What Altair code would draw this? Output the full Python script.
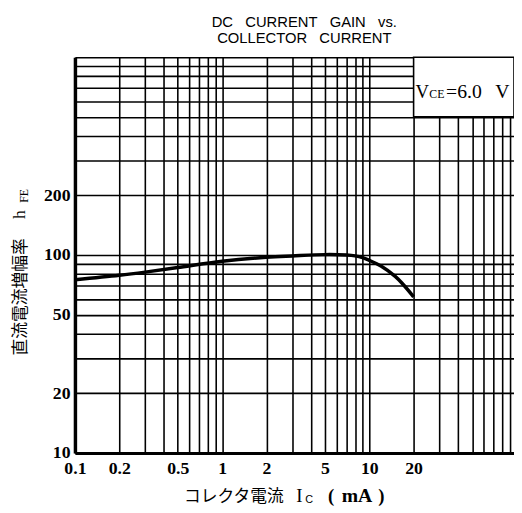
import json
import altair as alt
import pandas as pd

# ---- data ----
ic_ma = [0.1, 0.2, 0.3, 0.5, 1, 2, 3, 5, 7, 8, 9, 10, 12, 15, 17, 20]
hfe = [75, 79, 82, 86.5, 93, 97.5, 99, 100.5, 100, 99, 97, 94, 88, 78, 71, 61.5]

x_grid = [0.1, 0.2, 0.3, 0.4, 0.5, 0.6, 0.7, 0.8, 0.9,
          1, 2, 3, 4, 5, 6, 7, 8, 9,
          10, 20, 30, 40, 50, 60, 70, 80, 90]
y_grid = [10, 20, 30, 40, 50, 60, 70, 80, 90,
          100, 200, 300, 400, 500, 600, 700, 800, 900, 1000]
x_tick_values = [0.1, 0.2, 0.5, 1, 2, 5, 10, 20]
x_tick_labels = ["0.1", "0.2", "0.5", "1", "2", "5", "10", "20"]
y_tick_values = [10, 20, 50, 100, 200]
y_tick_labels = ["10", "20", "50", "100", "200"]

X_MIN, X_MAX = 0.1, 96.2
Y_MIN, Y_MAX = 10, 1000
W, H = 446, 402


def label_expr(values, labels):
    v = json.dumps(values)
    lab = json.dumps(labels)
    return f"indexof({v}, datum.value) >= 0 ? {lab}[indexof({v}, datum.value)] : ''"


xscale = alt.Scale(type="log", domain=[X_MIN, X_MAX], nice=False)
yscale = alt.Scale(type="log", domain=[Y_MIN, Y_MAX], nice=False)

axis_style = dict(grid=True, gridColor="black", gridWidth=1.6, gridOpacity=1,
                  ticks=False, domainColor="black",
                  labelFont="Liberation Serif", labelFontWeight="bold",
                  labelFontSize=18, labelColor="black",
                  labelOverlap=False, labelFlush=False, title=None)

x_axis = alt.Axis(values=x_grid, labelExpr=label_expr(x_tick_values, x_tick_labels),
                  labelPadding=7, domainWidth=3, **axis_style)
y_axis = alt.Axis(values=y_grid, labelExpr=label_expr(y_tick_values, y_tick_labels),
                  labelPadding=5, domainWidth=3.5, **axis_style)

df = pd.DataFrame({"ic": ic_ma, "hfe": hfe})

curve = alt.Chart(df).mark_line(color="black", strokeWidth=3.5, interpolate="catmull-rom").encode(
    x=alt.X("ic:Q", scale=xscale, axis=x_axis),
    y=alt.Y("hfe:Q", scale=yscale, axis=y_axis),
)

box_df = pd.DataFrame({"ic": [20], "x2": [X_MAX], "hfe": [500], "y2": [1000]})
box = alt.Chart(box_df).mark_rect(fill="white", stroke="black", strokeWidth=1.6).encode(
    x=alt.X("ic:Q", scale=xscale, axis=x_axis), x2="x2:Q",
    y=alt.Y("hfe:Q", scale=yscale, axis=y_axis), y2="y2:Q",
)


def txt(s, x, y, size, font="Liberation Serif", weight="normal", angle=0,
        align="left", baseline="alphabetic"):
    return alt.Chart(alt.Data(values=[{}])).mark_text(
        text=s, font=font, fontSize=size, fontWeight=weight, angle=angle,
        align=align, baseline=baseline, color="black"
    ).encode(x=alt.value(x), y=alt.value(y))


NB = "\u00a0"
XT = 452  # baseline of the x-axis title, px below the plot top
texts = [
    # title
    txt(f"DC{NB*3}CURRENT{NB*3}GAIN{NB*3}vs.", 233, -31, 15, font="Liberation Sans", align="center"),
    txt(f"COLLECTOR{NB*3}CURRENT", 233, -14, 15, font="Liberation Sans", align="center"),
    # y title
    txt("直流電流増幅率", -50, 243.5, 17, font="Noto Sans CJK JP", angle=270, align="center"),
    txt("h", -51, 160, 18, angle=270, align="center"),
    txt("FE", -48, 141, 12, angle=270, align="center"),
    # x title
    txt("コレクタ電流", 161.5, XT, 17, font="Noto Sans CJK JP", align="center"),
    txt("I", 228, XT, 19, align="center"),
    txt("C", 238, XT + 1, 11, font="Liberation Sans", align="center"),
    txt("(", 257, XT, 19, weight="bold"),
    txt("mA", 271, XT, 20, weight="bold"),
    txt(")", 308, XT, 19, weight="bold"),
    # legend
    txt("V", 346, 41, 19),
    txt("CE", 360, 41, 12),
    txt("=6.0", 377, 41, 20),
    txt("V", 427, 41, 20),
]

chart = alt.layer(box, curve, *texts).properties(
    width=W, height=H,
    autosize=alt.AutoSizeParams(type="none"),
    padding={"left": 68, "top": 46, "right": 0, "bottom": 52},
    background="white",
).configure_view(strokeWidth=0)

chart.save("out.html", embed_options={"renderer": "svg", "actions": False})
